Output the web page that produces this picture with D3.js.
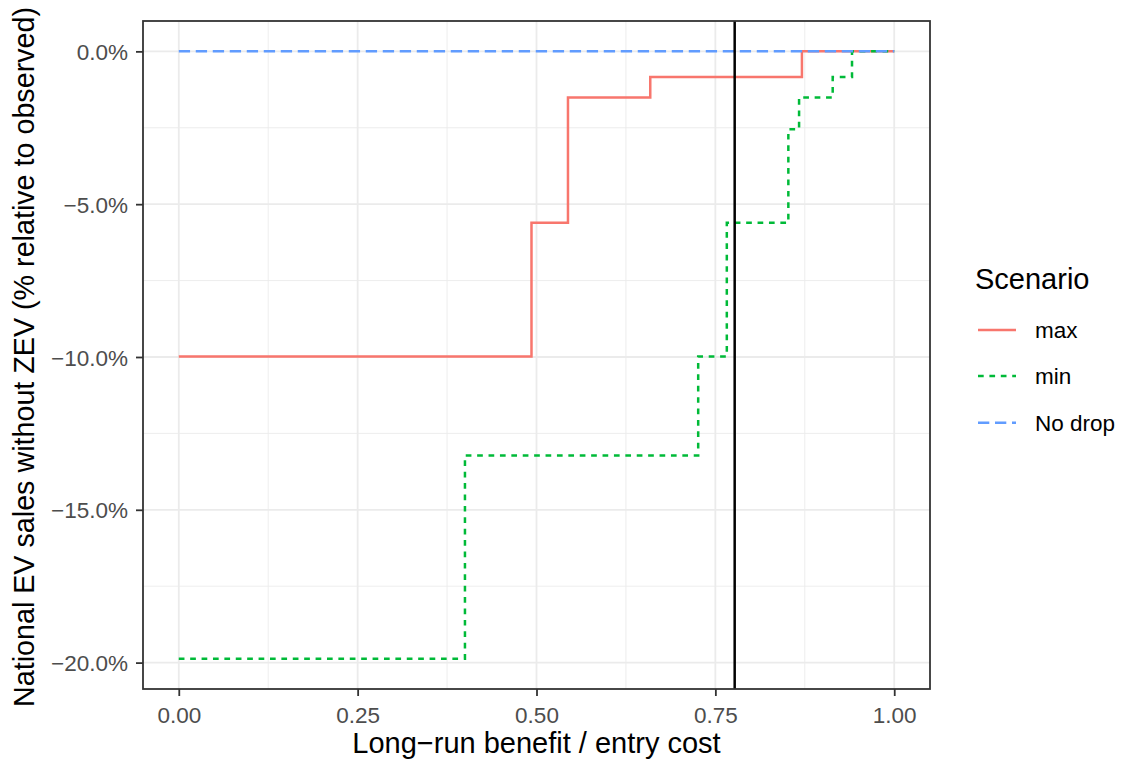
<!DOCTYPE html>
<html>
<head>
<meta charset="utf-8">
<script src="https://cdn.jsdelivr.net/npm/d3@7"></script>
<style>
  body { margin: 0; background: #fff; }
  svg { display: block; font-family: "Liberation Sans", Arial, Helvetica, sans-serif; }
</style>
</head>
<body>
<svg id="chart" width="1126" height="762"></svg>
<script>
// ---- data ----
const scenarios = ["max", "min", "No drop"];
const maxX = [0, 0.493, 0.544, 0.659, 0.871, 1.0];
const maxY = [-9.98, -5.61, -1.51, -0.84, 0, 0];
const minX = [0, 0.400, 0.726, 0.766, 0.852, 0.867, 0.914, 0.941, 1.0];
const minY = [-19.87, -13.22, -9.98, -5.61, -2.55, -1.51, -0.84, 0, 0];
const noDropX = [0, 1.0];
const noDropY = [0, 0];
const refLineX = 0.777;
const xTicks = [0, 0.25, 0.5, 0.75, 1.0];
const xTickLabels = ["0.00", "0.25", "0.50", "0.75", "1.00"];
const yTicks = [0, -5, -10, -15, -20];
const yTickLabels = ["0.0%", "\u22125.0%", "\u221210.0%", "\u221215.0%", "\u221220.0%"];
const xMinor = [0.125, 0.375, 0.625, 0.875];
const yMinor = [-2.5, -7.5, -12.5, -17.5];

const colors = { "max": "#F8766D", "min": "#00BA38", "No drop": "#619CFF" };
const dashes = { "max": null, "min": "5.7,5.7", "No drop": "11.3,5.7" };

// ---- layout ----
const svg = d3.select("#chart");
const P = { left: 143, right: 930, top: 21, bottom: 689 };

const xDom = [0, 1], yDom = [-19.87, 0];
const xPad = (xDom[1] - xDom[0]) * 0.05, yPad = (yDom[1] - yDom[0]) * 0.05;
const x = d3.scaleLinear().domain([xDom[0] - xPad, xDom[1] + xPad]).range([P.left, P.right]);
const y = d3.scaleLinear().domain([yDom[0] - yPad, yDom[1] + yPad]).range([P.bottom, P.top]);

const g = svg.append("g");

// gridlines
g.selectAll(".xminor").data(xMinor).join("line")
  .attr("x1", d => x(d)).attr("x2", d => x(d)).attr("y1", P.top).attr("y2", P.bottom)
  .attr("stroke", "#EBEBEB").attr("stroke-width", 0.9);
g.selectAll(".yminor").data(yMinor).join("line")
  .attr("y1", d => y(d)).attr("y2", d => y(d)).attr("x1", P.left).attr("x2", P.right)
  .attr("stroke", "#EBEBEB").attr("stroke-width", 0.9);
g.selectAll(".xmajor").data(xTicks).join("line")
  .attr("x1", d => x(d)).attr("x2", d => x(d)).attr("y1", P.top).attr("y2", P.bottom)
  .attr("stroke", "#EBEBEB").attr("stroke-width", 1.8);
g.selectAll(".ymajor").data(yTicks).join("line")
  .attr("y1", d => y(d)).attr("y2", d => y(d)).attr("x1", P.left).attr("x2", P.right)
  .attr("stroke", "#EBEBEB").attr("stroke-width", 1.8);

// series
const series = [
  { name: "No drop", xs: noDropX, ys: noDropY },
  { name: "max", xs: maxX, ys: maxY },
  { name: "min", xs: minX, ys: minY }
];
const line = d3.line().x(d => x(d[0])).y(d => y(d[1])).curve(d3.curveStepAfter);
["max", "min", "No drop"].forEach(nm => {
  const s = series.find(q => q.name === nm);
  const pts = s.xs.map((v, i) => [v, s.ys[i]]);
  g.append("path").attr("d", line(pts))
    .attr("fill", "none").attr("stroke", colors[nm]).attr("stroke-width", 2.5)
    .attr("stroke-dasharray", dashes[nm]);
});

// reference vline
g.append("line")
  .attr("x1", x(refLineX)).attr("x2", x(refLineX)).attr("y1", P.top).attr("y2", P.bottom)
  .attr("stroke", "#000").attr("stroke-width", 2.5);

// panel border
g.append("rect").attr("x", P.left).attr("y", P.top)
  .attr("width", P.right - P.left).attr("height", P.bottom - P.top)
  .attr("fill", "none").attr("stroke", "#333333").attr("stroke-width", 1.8);

// axes
const xAxis = d3.axisBottom(x).tickValues(xTicks).tickFormat((d, i) => xTickLabels[i]).tickSizeOuter(0).tickSize(7).tickPadding(5);
const yAxis = d3.axisLeft(y).tickValues(yTicks).tickFormat((d, i) => yTickLabels[i]).tickSizeOuter(0).tickSize(7).tickPadding(8);

const gx = svg.append("g").attr("transform", `translate(0,${P.bottom})`).call(xAxis);
const gy = svg.append("g").attr("transform", `translate(${P.left},0)`).call(yAxis);
[gx, gy].forEach(a => {
  a.select(".domain").remove();
  a.selectAll(".tick line").attr("stroke", "#333333").attr("stroke-width", 1.8);
  a.selectAll(".tick text").attr("fill", "#4D4D4D").attr("font-size", 22.5)
    .attr("font-family", "Liberation Sans, Arial, sans-serif");
});
gx.selectAll(".tick text").attr("y", 34).attr("dy", 0);
gy.selectAll(".tick text").attr("dy", "0.36em");

// axis titles
svg.append("text").attr("x", (P.left + P.right) / 2).attr("y", 753)
  .attr("text-anchor", "middle").attr("font-size", 29).attr("fill", "#000")
  .text("Long\u2212run benefit / entry cost");
svg.append("text")
  .attr("transform", `translate(34,357) rotate(-90)`)
  .attr("text-anchor", "middle").attr("font-size", 28.7).attr("fill", "#000")
  .text("National EV sales without ZEV (% relative to observed)");

// legend
const leg = svg.append("g");
leg.append("text").attr("x", 975).attr("y", 289).attr("font-size", 29).attr("fill", "#000").text("Scenario");
const legY = [330, 376, 422.7];
scenarios.forEach((nm, i) => {
  leg.append("line").attr("x1", 978).attr("x2", 1016).attr("y1", legY[i]).attr("y2", legY[i])
    .attr("stroke", colors[nm]).attr("stroke-width", 2.5).attr("stroke-dasharray", dashes[nm]);
  leg.append("text").attr("x", 1035).attr("y", legY[i] + 8).attr("font-size", 22.5).attr("fill", "#000").text(nm);
});
</script>
</body>
</html>
